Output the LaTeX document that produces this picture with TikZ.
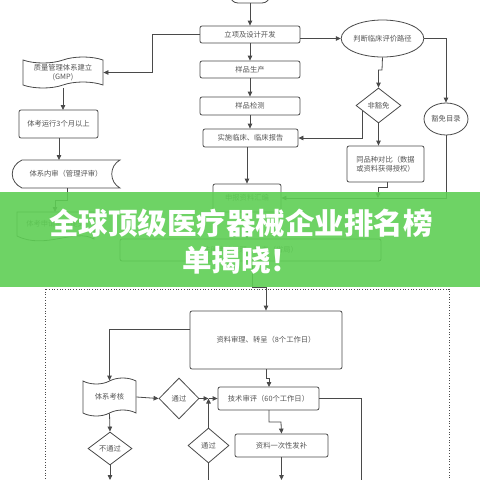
\documentclass[tikz,border=0pt]{standalone}
\usepackage{fontspec}
\newfontfamily\cjk{Noto Sans CJK SC}
\usetikzlibrary{shapes.geometric,shapes.symbols,arrows.meta,calc}
\definecolor{lc}{HTML}{4A4A4A}
\definecolor{tc}{HTML}{555555}
\definecolor{bannergreen}{HTML}{5FCF55}
\tikzset{
  base/.style={text=tc, font=\cjk\fontsize{7.3}{9}\selectfont, inner sep=0pt, align=center},
  box/.style={base, draw=lc, line width=0.8pt, rounded corners=2pt, fill=white},
  plain/.style={base, draw=none},
  tapebox/.style={base, tape, draw=lc, line width=0.8pt, fill=white, tape bend height=6pt},
  dia/.style={base, diamond, draw=lc, line width=0.8pt, fill=white},
  ell/.style={base, ellipse, draw=lc, line width=0.8pt, fill=white},
  ln/.style={draw=lc, line width=0.8pt},
  arr/.style={ln, -{Triangle[length=5pt,width=4.5pt]}},
}
\begin{document}
\begin{tikzpicture}[x=1pt,y=-1pt]
\useasboundingbox (0,0) rectangle (480,480);
\clip (0,0) rectangle (480,480);
\fill[white] (0,0) rectangle (480,480);
% dotted frame
\draw[lc, dotted, line width=0.7pt] (45.5,289) rectangle (449,495);
% centre column
\node[box, rounded corners=8pt, minimum width=40, minimum height=16] (top) at (250,-5) {产品立项};
\node[box, minimum width=100, minimum height=17] (lx) at (250,34.5) {立项及设计开发};
\node[box, minimum width=100, minimum height=17] (yp) at (250,69.5) {样品生产};
\node[box, minimum width=100, minimum height=18] (jc) at (250,106) {样品检测};
\node[box, minimum width=95, minimum height=18] (lcb) at (250.5,138) {实施临床、临床报告};
\node[box, minimum width=68, minimum height=28] (sb) at (247,198) {申报资料汇编};
\node[box, minimum width=261, minimum height=22] (zc) at (250.5,250) {注册申请受理、审查（省局）};
\node[box, minimum width=152, minimum height=58] (zl) at (266,340) {资料审理、转呈（8个工作日）};
\node[box, minimum width=101, minimum height=23] (js) at (268.5,398.5) {技术审评（60个工作日）};
\node[box, minimum width=93, minimum height=23] (bp) at (281.5,445.5) {资料一次性发补};
% left column
\node[tapebox, minimum width=80, minimum height=31] (gmp) at (63,72.5) {质量管理体系建立\\(GMP)};
\node[box, minimum width=79, minimum height=28] (yx) at (58.5,124) {体考运行3个月以上};
\node[plain, minimum width=108, minimum height=28] (ns) at (66,174) {体系内审（管理评审）};
\draw[ln, fill=white] (22,160) -- (120,160) .. controls (109,166) and (109,182) .. (120,188) -- (22,188) .. controls (9,182) and (9,166) .. (22,160) -- cycle;
\node[plain, minimum width=108, minimum height=28] at (66,174) {体系内审（管理评审）};
\draw[ln, fill=white] (17,212) -- (94,212) -- (94,239) .. controls (75,228) and (45,250) .. (17,236) -- cycle;
\node[plain, minimum width=77, minimum height=24] (tk) at (55.5,224) {体考申请资料提交};
% right column
\node[ell, minimum width=81, minimum height=37] (pd) at (382.5,38.5) {判断临床评价路径};
\node[dia, minimum width=45, minimum height=35] (fh) at (378.5,105.5) {非豁免};
\node[box, minimum width=77, minimum height=36] (tp) at (385.5,164) {同品种对比（数据\\或资料获得授权）};
\node[ell, minimum width=44, minimum height=32] (hm) at (446,119) {豁免目录};
% lower part
\node[tapebox, minimum width=53, minimum height=38] (tx) at (109.5,397) {体系考核};
\node[dia, minimum width=40, minimum height=41] (tg1) at (179,398.5) {通过};
\node[dia, minimum width=41, minimum height=35] (tg2) at (208.5,445.5) {通过};
\node[dia, minimum width=44, minimum height=33] (btg) at (110,448.5) {不通过};
% coordinates
\coordinate (k1) at (152,0);
\coordinate (y329) at (0,329);
\coordinate (j1) at (tg2.north |- js.west);
\coordinate (fhp) at ($(fh.west)!0.3!(fh.south)$);
% connectors centre
\draw[arr] (top.south) -- (lx.north);
\draw[arr] (lx.south) -- (yp.north);
\draw[arr] (yp.south) -- (jc.north);
\draw[arr] (jc.south) -- (jc.south |- lcb.north);
\draw[arr] (sb.north |- lcb.south) -- (sb.north);
\draw[arr] (sb.south) -- (sb.south |- zc.north);
\draw[arr] (252,261) -- (252,287) -- (266,287) -- (zl.north);
\draw[arr] (zl.south) -- (266,378) -- (269,378) -- (269,387);
\draw[arr] (269,410) -- (269,422) -- (281,422) -- (bp.north);
\draw[arr] (bp.south) -- (281.5,480);
% left connectors
\draw[arr] (lx.west) -| (k1 |- gmp.east) -- (gmp.east);
\draw[arr] (63,88) -- (63,110);
\draw[arr] (59,138) -- (59,160);
\draw[arr] (67,188) -- (67,200) -- (55,200) -- (55,212);
% right connectors
\draw[arr] (lx.east |- pd.west) -- (pd.west);
\draw[arr] (pd.south) -- (382,70) -- (378.5,70) -- (fh.north);
\draw[arr] (pd.east) -| (hm.north);
\draw[arr] (fhp) |- (lcb.east);
\draw[arr] (fh.south) -- (fh.south |- tp.north);
\draw[arr] (387,182) -- (387,187) -- (378,187) -- (378,198);
\draw[arr] (hm.south) |- (sb.east);
% lower connectors
\draw[arr] (zl.west |- y329) -| (tx.north);
\draw[arr] (tx.east) -- (tg1.west);
\draw[arr] (tg1.east) -- (j1);
\draw[arr] (j1) -- (js.west);
\draw[arr] (tg2.north) -- (j1);
\draw[arr] (tx.south) -- (btg.north);
\draw[arr] (btg.south) -- (110,480);
\draw[ln] (tg2.south) -- (208.5,485);
\draw[ln] (js.east) -- (361,398.5) -- (361,485);
% banner
\fill[bannergreen, opacity=0.9] (0,192) rectangle (480,287);
\node[text=white, font=\cjk\bfseries\fontsize{29.5}{36}\selectfont, inner sep=0pt] (t1) at (241,223) {全球顶级医疗器械企业排名榜};
\node[text=white, font=\cjk\bfseries\fontsize{29.5}{36}\selectfont, inner sep=0pt] (t2) at (241,260) {单揭晓！};
\end{tikzpicture}
\end{document}
